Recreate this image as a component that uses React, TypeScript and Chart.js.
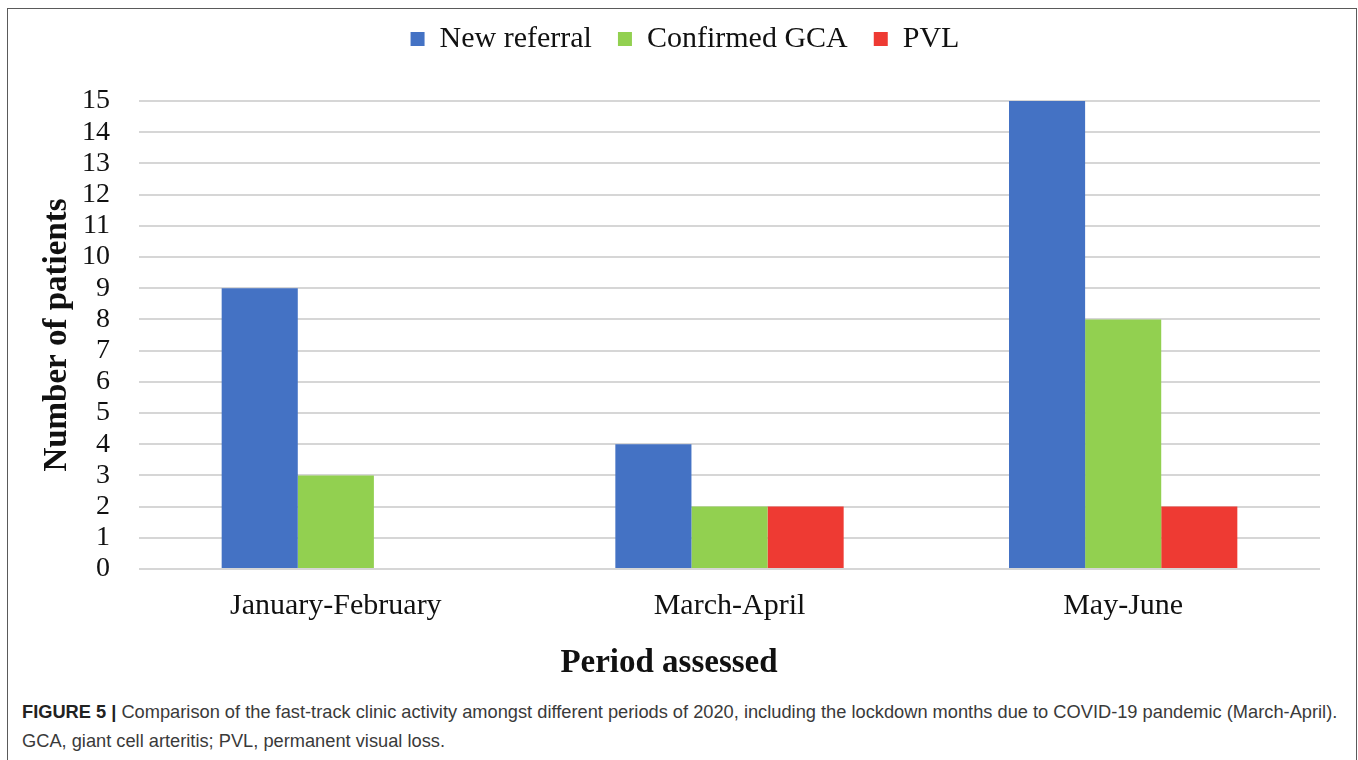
import React, { useEffect, useRef } from "react";
import { Chart, registerables } from "chart.js";

Chart.register(...registerables);

const categories = ["January-February", "March-April", "May-June"];
const seriesLabels = ["New referral", "Confirmed GCA", "PVL"];
const newReferral = [9, 4, 15];
const confirmedGCA = [3, 2, 8];
const pvl = [0, 2, 2];
const seriesColors = ["#4472C4", "#92D050", "#EE3A33"];
const yMin = 0;
const yMax = 15;
const yStep = 1;

const SERIF = "'Liberation Serif', 'Times New Roman', serif";

const legendSpacer = {
  id: "legendSpacer",
  beforeInit(chart: any) {
    const legend = chart.legend;
    if (!legend) return;
    const origFit = legend.fit;
    legend.fit = function () {
      origFit.call(this);
      this.height += 37;
    };
    const origDraw = legend.draw;
    legend.draw = function (...args: any[]) {
      const ctx = this.ctx;
      ctx.save();
      ctx.translate(16, 0);
      origDraw.apply(this, args);
      ctx.restore();
    };
  },
};

function BarChart() {
  const ref = useRef<HTMLCanvasElement | null>(null);
  useEffect(() => {
    if (!ref.current) return;
    const chart = new Chart(ref.current, {
      type: "bar",
      data: {
        labels: categories,
        datasets: [
          { label: seriesLabels[0], data: newReferral, backgroundColor: seriesColors[0] },
          { label: seriesLabels[1], data: confirmedGCA, backgroundColor: seriesColors[1] },
          { label: seriesLabels[2], data: pvl, backgroundColor: seriesColors[2] },
        ],
      },
      options: {
        responsive: false,
        animation: false,
        devicePixelRatio: 1,
        datasets: { bar: { categoryPercentage: 0.58, barPercentage: 1.0, borderWidth: 0 } },
        layout: { padding: { left: 10, right: 34, top: -11, bottom: 0 } },
        plugins: {
          tooltip: { enabled: false },
          legend: {
            position: "top",
            labels: {
              boxWidth: 14,
              boxHeight: 14,
              padding: 26,
              color: "#111",
              font: { family: SERIF, size: 30 },
            },
          },
          title: {
            display: true,
            position: "bottom",
            text: "Period assessed",
            color: "#111",
            font: { family: SERIF, size: 33, weight: "bold" },
            padding: { top: 17.4, bottom: 6 },
          },
        },
        scales: {
          x: {
            grid: { display: false },
            border: { display: false },
            ticks: { color: "#111", font: { family: SERIF, size: 30 }, padding: 11 },
            afterFit(scale: any) {
              scale.height = 57;
            },
          },
          y: {
            min: yMin,
            max: yMax,
            grid: { color: "#d6d6d6", lineWidth: 2, drawTicks: false },
            border: { display: false },
            ticks: {
              stepSize: yStep,
              autoSkip: false,
              color: "#111",
              font: { family: SERIF, size: 28 },
              padding: 29,
            },
            title: {
              display: true,
              text: "Number of patients",
              color: "#111",
              font: { family: SERIF, size: 33, weight: "bold" },
              padding: { top: 20, bottom: 0 },
            },
            afterFit(scale: any) {
              scale.width = 121;
            },
          },
        },
      },
      plugins: [legendSpacer],
    });
    return () => chart.destroy();
  }, []);
  return <canvas ref={ref} width={1346} height={680} style={{ display: "block" }} />;
}

export default function App() {
  const captionFont = "'Liberation Sans Narrow', 'Arial Narrow', 'Liberation Sans', Arial, sans-serif";
  return (
    <div
      style={{
        position: "fixed",
        left: 7,
        top: 8,
        width: 1348,
        height: 800,
        border: "1px solid #5a5a5a",
        background: "#fff",
        boxSizing: "content-box",
      }}
    >
      <BarChart />
      <div
        style={{
          paddingLeft: 14,
          marginTop: 8,
          fontFamily: captionFont,
          fontSize: 18.25,
          lineHeight: "29px",
          color: "#3a3a3a",
          whiteSpace: "nowrap",
        }}
      >
        <div>
          <b style={{ color: "#222" }}>FIGURE 5 |</b> Comparison of the fast-track clinic activity amongst
          different periods of 2020, including the lockdown months due to COVID-19 pandemic (March-April).
        </div>
        <div>GCA, giant cell arteritis; PVL, permanent visual loss.</div>
      </div>
    </div>
  );
}
